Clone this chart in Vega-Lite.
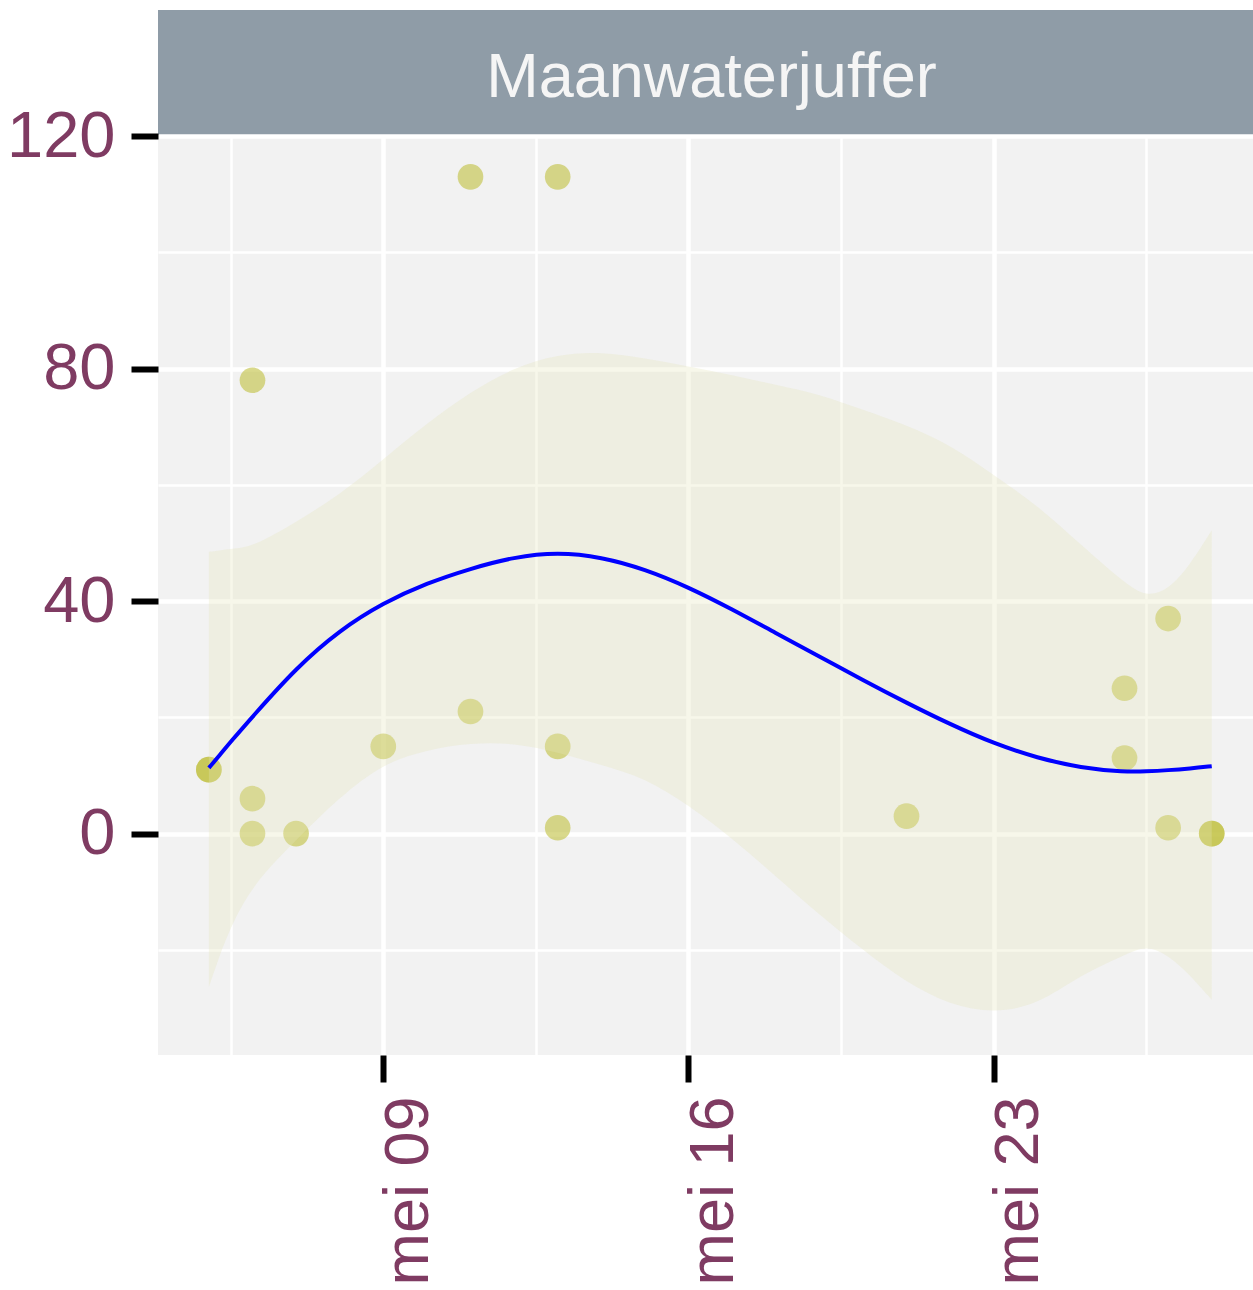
{
  "$schema": "https://vega.github.io/schema/vega-lite/v6.json",
  "autosize": {"type": "pad"},
  "padding": {"left": 6, "top": 10, "right": 0, "bottom": 0},
  "background": "white",
  "spacing": 0,
  "bounds": "flush",
  "config": {"font": "Liberation Sans", "concat": {"spacing": 0}},
  "datasets": {
    "pts": [
      {"date": "2023-05-05T00:00:00Z", "n": 11},
      {"date": "2023-05-05T00:00:00Z", "n": 11},
      {"date": "2023-05-06T00:00:00Z", "n": 78},
      {"date": "2023-05-06T00:00:00Z", "n": 6},
      {"date": "2023-05-06T00:00:00Z", "n": 0},
      {"date": "2023-05-07T00:00:00Z", "n": 0},
      {"date": "2023-05-09T00:00:00Z", "n": 15},
      {"date": "2023-05-11T00:00:00Z", "n": 113},
      {"date": "2023-05-11T00:00:00Z", "n": 21},
      {"date": "2023-05-13T00:00:00Z", "n": 113},
      {"date": "2023-05-13T00:00:00Z", "n": 15},
      {"date": "2023-05-13T00:00:00Z", "n": 1},
      {"date": "2023-05-21T00:00:00Z", "n": 3},
      {"date": "2023-05-26T00:00:00Z", "n": 25},
      {"date": "2023-05-26T00:00:00Z", "n": 13},
      {"date": "2023-05-27T00:00:00Z", "n": 37},
      {"date": "2023-05-27T00:00:00Z", "n": 1},
      {"date": "2023-05-28T00:00:00Z", "n": 0},
      {"date": "2023-05-28T00:00:00Z", "n": 0}
    ],
    "smooth": [
      {"date": "2023-05-05T00:00:00Z", "fit": 11.3, "lo": -26.4, "hi": 48.5},
      {"date": "2023-05-05T06:00:00Z", "fit": 13.5, "lo": -20.9, "hi": 48.7},
      {"date": "2023-05-05T12:00:00Z", "fit": 15.8, "lo": -16.1, "hi": 49.0},
      {"date": "2023-05-06T00:00:00Z", "fit": 20.1, "lo": -8.8, "hi": 49.3},
      {"date": "2023-05-07T00:00:00Z", "fit": 28.5, "lo": -1.1, "hi": 53.6},
      {"date": "2023-05-08T00:00:00Z", "fit": 35.0, "lo": 6.3, "hi": 58.3},
      {"date": "2023-05-09T00:00:00Z", "fit": 39.7, "lo": 12.1, "hi": 64.4},
      {"date": "2023-05-10T00:00:00Z", "fit": 43.1, "lo": 14.4, "hi": 70.6},
      {"date": "2023-05-11T00:00:00Z", "fit": 45.6, "lo": 15.6, "hi": 76.0},
      {"date": "2023-05-12T00:00:00Z", "fit": 47.6, "lo": 15.6, "hi": 80.2},
      {"date": "2023-05-13T00:00:00Z", "fit": 48.4, "lo": 14.0, "hi": 82.5},
      {"date": "2023-05-14T00:00:00Z", "fit": 47.6, "lo": 11.8, "hi": 82.9},
      {"date": "2023-05-15T00:00:00Z", "fit": 45.5, "lo": 9.6, "hi": 81.8},
      {"date": "2023-05-16T00:00:00Z", "fit": 42.4, "lo": 4.9, "hi": 80.4},
      {"date": "2023-05-17T00:00:00Z", "fit": 38.6, "lo": -0.8, "hi": 78.9},
      {"date": "2023-05-18T00:00:00Z", "fit": 34.5, "lo": -7.3, "hi": 77.2},
      {"date": "2023-05-19T00:00:00Z", "fit": 30.5, "lo": -14.0, "hi": 75.6},
      {"date": "2023-05-20T00:00:00Z", "fit": 26.4, "lo": -20.0, "hi": 72.9},
      {"date": "2023-05-21T00:00:00Z", "fit": 22.5, "lo": -25.7, "hi": 70.3},
      {"date": "2023-05-22T00:00:00Z", "fit": 18.8, "lo": -29.5, "hi": 66.9},
      {"date": "2023-05-23T00:00:00Z", "fit": 15.5, "lo": -30.9, "hi": 61.7},
      {"date": "2023-05-24T00:00:00Z", "fit": 13.0, "lo": -29.5, "hi": 56.5},
      {"date": "2023-05-25T00:00:00Z", "fit": 11.3, "lo": -24.3, "hi": 49.7},
      {"date": "2023-05-26T00:00:00Z", "fit": 10.6, "lo": -20.9, "hi": 43.1},
      {"date": "2023-05-26T12:00:00Z", "fit": 10.7, "lo": -19.2, "hi": 40.7},
      {"date": "2023-05-27T00:00:00Z", "fit": 10.9, "lo": -20.9, "hi": 41.9},
      {"date": "2023-05-27T12:00:00Z", "fit": 11.2, "lo": -24.3, "hi": 46.2},
      {"date": "2023-05-28T00:00:00Z", "fit": 11.6, "lo": -28.6, "hi": 52.2}
    ]
  },
  "vconcat": [
    {
      "width": 1095,
      "height": 125,
      "view": {"fill": "#8f9ca7", "stroke": null},
      "data": {"values": [{"label": "Maanwaterjuffer"}]},
      "mark": {"type": "text", "font": "Liberation Sans", "fontSize": 63, "color": "#f5f5f5", "baseline": "alphabetic", "dy": 24, "dx": 6},
      "encoding": {"text": {"field": "label", "type": "nominal"}}
    },
    {
      "width": 1095,
      "height": 920,
      "view": {"fill": "#f2f2f2", "stroke": null},
      "layer": [
        {
          "data": {"name": "pts"},
          "mark": {"type": "circle", "size": 660, "color": "#bfc03d", "opacity": 0.6},
          "encoding": {
            "x": {
              "field": "date", "type": "temporal", "title": null,
              "scale": {"type": "utc", "domain": [
                {"year": 2023, "month": 5, "date": 3, "hours": 20, "utc": true},
                {"year": 2023, "month": 5, "date": 28, "hours": 22, "minutes": 43, "utc": true}
              ]},
              "axis": {
                "values": [
                  {"year": 2023, "month": 5, "date": 5, "hours": 12, "utc": true},
                  {"year": 2023, "month": 5, "date": 9, "utc": true},
                  {"year": 2023, "month": 5, "date": 12, "hours": 12, "utc": true},
                  {"year": 2023, "month": 5, "date": 16, "utc": true},
                  {"year": 2023, "month": 5, "date": 19, "hours": 12, "utc": true},
                  {"year": 2023, "month": 5, "date": 23, "utc": true},
                  {"year": 2023, "month": 5, "date": 26, "hours": 12, "utc": true}
                ],
                "labelExpr": "utchours(datum.value) === 0 ? 'mei ' + utcFormat(datum.value, '%d') : ''",
                "labelAngle": 270,
                "labelAlign": "right",
                "labelBaseline": "top",
                "labelOffset": -6,
                "labelPadding": 14,
                "labelFontSize": 63,
                "labelFont": "Liberation Sans",
                "labelColor": "#7f3b62",
                "labelLimit": 500,
                "labelOverlap": false,
                "labelFlush": false,
                "domain": false,
                "tickSize": 27,
                "tickWidth": 6,
                "tickColor": "black",
                "tickOpacity": {"condition": {"test": "utchours(datum.value) === 0", "value": 1}, "value": 0},
                "grid": true,
                "gridColor": "white",
                "gridOpacity": 1,
                "gridWidth": {"condition": {"test": "utchours(datum.value) === 0", "value": 4.5}, "value": 2.5}
              }
            },
            "y": {
              "field": "n", "type": "quantitative", "title": null,
              "scale": {"domain": [-38.1, 120.2], "nice": false, "zero": false},
              "axis": {
                "values": [-20, 0, 20, 40, 60, 80, 100, 120],
                "labelExpr": "datum.value % 40 === 0 ? datum.label : ''",
                "labelFontSize": 65,
                "labelFont": "Liberation Sans",
                "labelColor": "#7f3b62",
                "labelPadding": 16,
                "labelOverlap": false,
                "labelFlush": false,
                "domain": false,
                "tickSize": 27,
                "tickWidth": 6,
                "tickColor": "black",
                "tickOpacity": {"condition": {"test": "datum.value % 40 === 0", "value": 1}, "value": 0},
                "grid": true,
                "gridColor": "white",
                "gridOpacity": 1,
                "gridWidth": {"condition": {"test": "datum.value % 40 === 0", "value": 4.5}, "value": 2.5}
              }
            }
          }
        },
        {
          "data": {"name": "smooth"},
          "mark": {"type": "area", "color": "#e6e6b8", "opacity": 0.3, "interpolate": "basis"},
          "encoding": {
            "x": {"field": "date", "type": "temporal"},
            "y": {"field": "lo", "type": "quantitative"},
            "y2": {"field": "hi"}
          }
        },
        {
          "data": {"name": "smooth"},
          "mark": {"type": "line", "color": "#0000ff", "strokeWidth": 4, "interpolate": "basis"},
          "encoding": {
            "x": {"field": "date", "type": "temporal"},
            "y": {"field": "fit", "type": "quantitative"}
          }
        }
      ]
    }
  ]
}
